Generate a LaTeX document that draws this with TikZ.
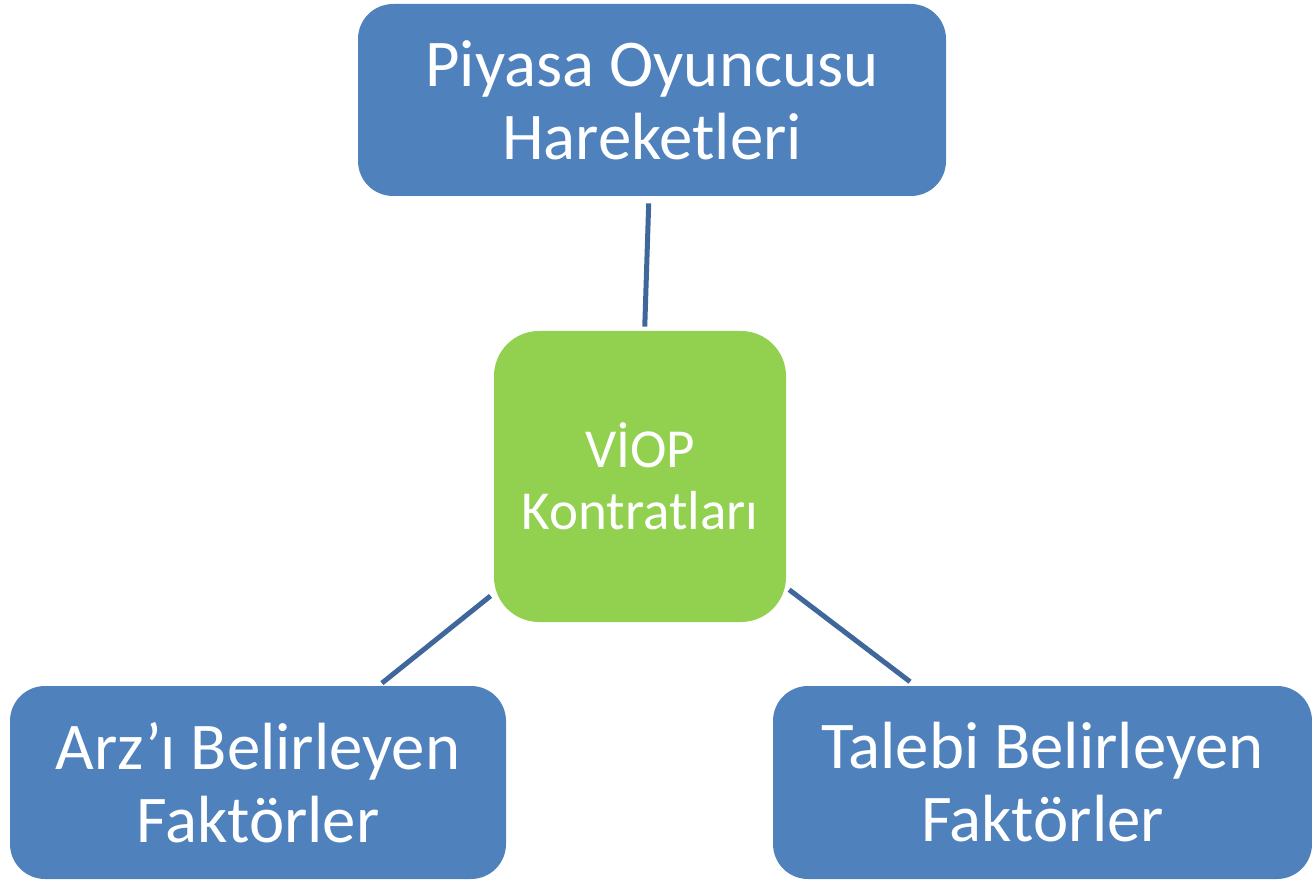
\documentclass[tikz,border=0pt]{standalone}
\usepackage{fontspec}
\setmainfont{Carlito}
\usepackage{color}
\usepackage{tikz}
\usetikzlibrary{positioning}

\definecolor{boxblue}{HTML}{4F81BD}
\definecolor{boxgreen}{HTML}{92D050}
\definecolor{linkblue}{HTML}{3F679B}

\begin{document}
\begin{tikzpicture}
	\tikzset{box/.style={rectangle, rounded corners=0.7cm, fill=boxblue, text=white, align=center, inner sep=0pt, minimum height=3.86cm, font=\fontsize{38}{41.5}\selectfont}}
	\tikzset{core/.style={box, fill=boxgreen, rounded corners=0.9cm, minimum width=5.84cm, minimum height=5.82cm, font=\fontsize{31.3}{35}\selectfont}}
	\tikzset{link/.style={draw=linkblue, line width=0.1cm}}
	\useasboundingbox (0,0) rectangle (26.24,-17.62);
	\node[box, minimum width=11.76cm, minimum height=3.84cm] (piyasa) at (13.04,-2.0) {Piyasa Oyuncusu\\Hareketleri};
	\node[core] (viop) at (12.8,-9.53) {VİOP\\Kontratları};
	\node[box, minimum width=9.92cm] (arz) at (5.16,-15.65) {Arz’ı Belirleyen\\Faktörler};
	\node[box, minimum width=10.78cm] (talep) at (20.85,-15.65) {Talebi Belirleyen\\Faktörler};
	\path[link]
		(piyasa) edge [shorten <=0.14cm, shorten >=0.08cm] (viop)
		(viop) edge [shorten <=0.08cm, shorten >=0.08cm] (arz)
		(viop) edge [shorten <=0.07cm, shorten >=0.13cm] (talep);
\end{tikzpicture}
\end{document}
